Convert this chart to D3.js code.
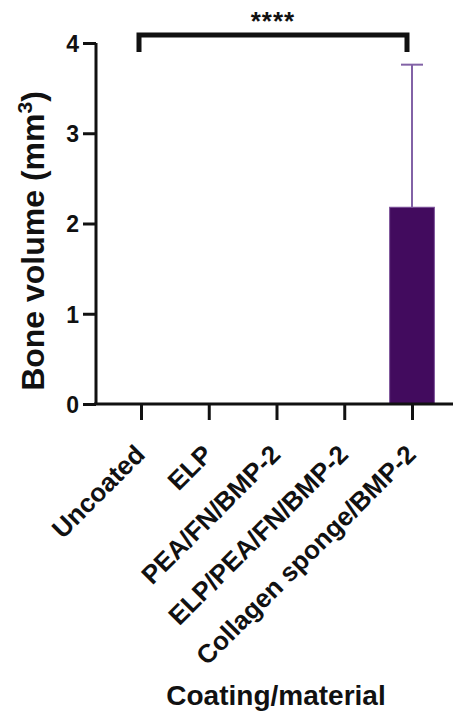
<!DOCTYPE html>
<html lang="en">
<head>
<meta charset="utf-8">
<title>Bone volume</title>
<script src="https://cdn.jsdelivr.net/npm/d3@7"></script>
<style>
  body { margin: 0; background: #fff; }
  svg text { font-family: "Liberation Sans", Arial, sans-serif; font-weight: bold; fill: #111; }
</style>
</head>
<body>
<script>
// data
var categories = ["Uncoated", "ELP", "PEA/FN/BMP-2", "ELP/PEA/FN/BMP-2", "Collagen sponge/BMP-2"];
var means = [0, 0, 0, 0, 2.18];
var sdUpper = [0, 0, 0, 0, 1.58];
var yTicks = [0, 1, 2, 3, 4];

var w = 453, h = 715;
var svg = d3.select("body").append("svg").attr("width", w).attr("height", h);

var y = d3.scaleLinear().domain([0, 4]).range([404, 43]);
var x = d3.scalePoint().domain(categories).range([141, 412]);
var barW = x.step() * 0.66;

// bars
svg.selectAll("rect.bar")
  .data(categories)
  .enter().append("rect")
  .attr("class", "bar")
  .attr("x", function(d) { return x(d) - barW / 2; })
  .attr("y", function(d, i) { return y(means[i]); })
  .attr("width", barW)
  .attr("height", function(d, i) { return y(0) - y(means[i]); })
  .attr("fill", "#420b5e")
  .attr("stroke", "#7a4f98")
  .attr("stroke-width", 1);

// error bars (upper only)
var err = svg.append("g").attr("stroke", "#8262a6").attr("stroke-width", 2);
categories.forEach(function(c, i) {
  if (sdUpper[i] <= 0) return;
  err.append("line")
    .attr("x1", x(c)).attr("x2", x(c))
    .attr("y1", y(means[i])).attr("y2", y(means[i] + sdUpper[i]));
  err.append("line")
    .attr("x1", x(c) - 11).attr("x2", x(c) + 11)
    .attr("y1", y(means[i] + sdUpper[i])).attr("y2", y(means[i] + sdUpper[i]));
});

// y axis
var yAxis = svg.append("g")
  .attr("transform", "translate(96,0)")
  .call(d3.axisLeft(y).tickValues(yTicks).tickFormat(d3.format("d")).tickSize(13).tickPadding(4));
yAxis.select(".domain").attr("stroke", "#111").attr("stroke-width", 3).attr("d", "M0," + y(4) + "V" + y(0));
yAxis.selectAll(".tick line").attr("stroke", "#111").attr("stroke-width", 3);
yAxis.selectAll(".tick text").style("font-size", "23px").attr("dy", "0.36em");

// x axis
var xAxis = svg.append("g")
  .attr("transform", "translate(0," + y(0) + ")")
  .call(d3.axisBottom(x).tickSize(16).tickSizeOuter(0));
xAxis.select(".domain").attr("stroke", "#111").attr("stroke-width", 3).attr("d", "M94,0H453");
xAxis.selectAll(".tick line").attr("stroke", "#111").attr("stroke-width", 3);
xAxis.selectAll(".tick text")
  .style("font-size", "26px")
  .attr("text-anchor", "end")
  .attr("dy", null)
  .attr("x", 0).attr("y", 0)
  .attr("transform", "translate(5,52) rotate(-45)");

// significance bracket
var b0 = x(categories[0]) - 2, b1 = x(categories[4]) - 5;
svg.append("path")
  .attr("d", "M" + b0 + ",52V35H" + b1 + "V52")
  .attr("fill", "none")
  .attr("stroke", "#111")
  .attr("stroke-width", 5);
svg.append("text")
  .attr("x", (b0 + b1) / 2).attr("y", 30)
  .attr("text-anchor", "middle")
  .style("font-size", "26px")
  .style("letter-spacing", "1px")
  .text("****");

// axis titles
svg.append("text")
  .attr("transform", "translate(44,241) rotate(-90)")
  .attr("text-anchor", "middle")
  .style("font-size", "32px")
  .html("Bone volume (mm<tspan dy='-12' style='font-size:21px'>3</tspan><tspan dy='12'>)</tspan>");

svg.append("text")
  .attr("x", 276).attr("y", 705)
  .attr("text-anchor", "middle")
  .style("font-size", "28px")
  .text("Coating/material");
</script>
</body>
</html>
